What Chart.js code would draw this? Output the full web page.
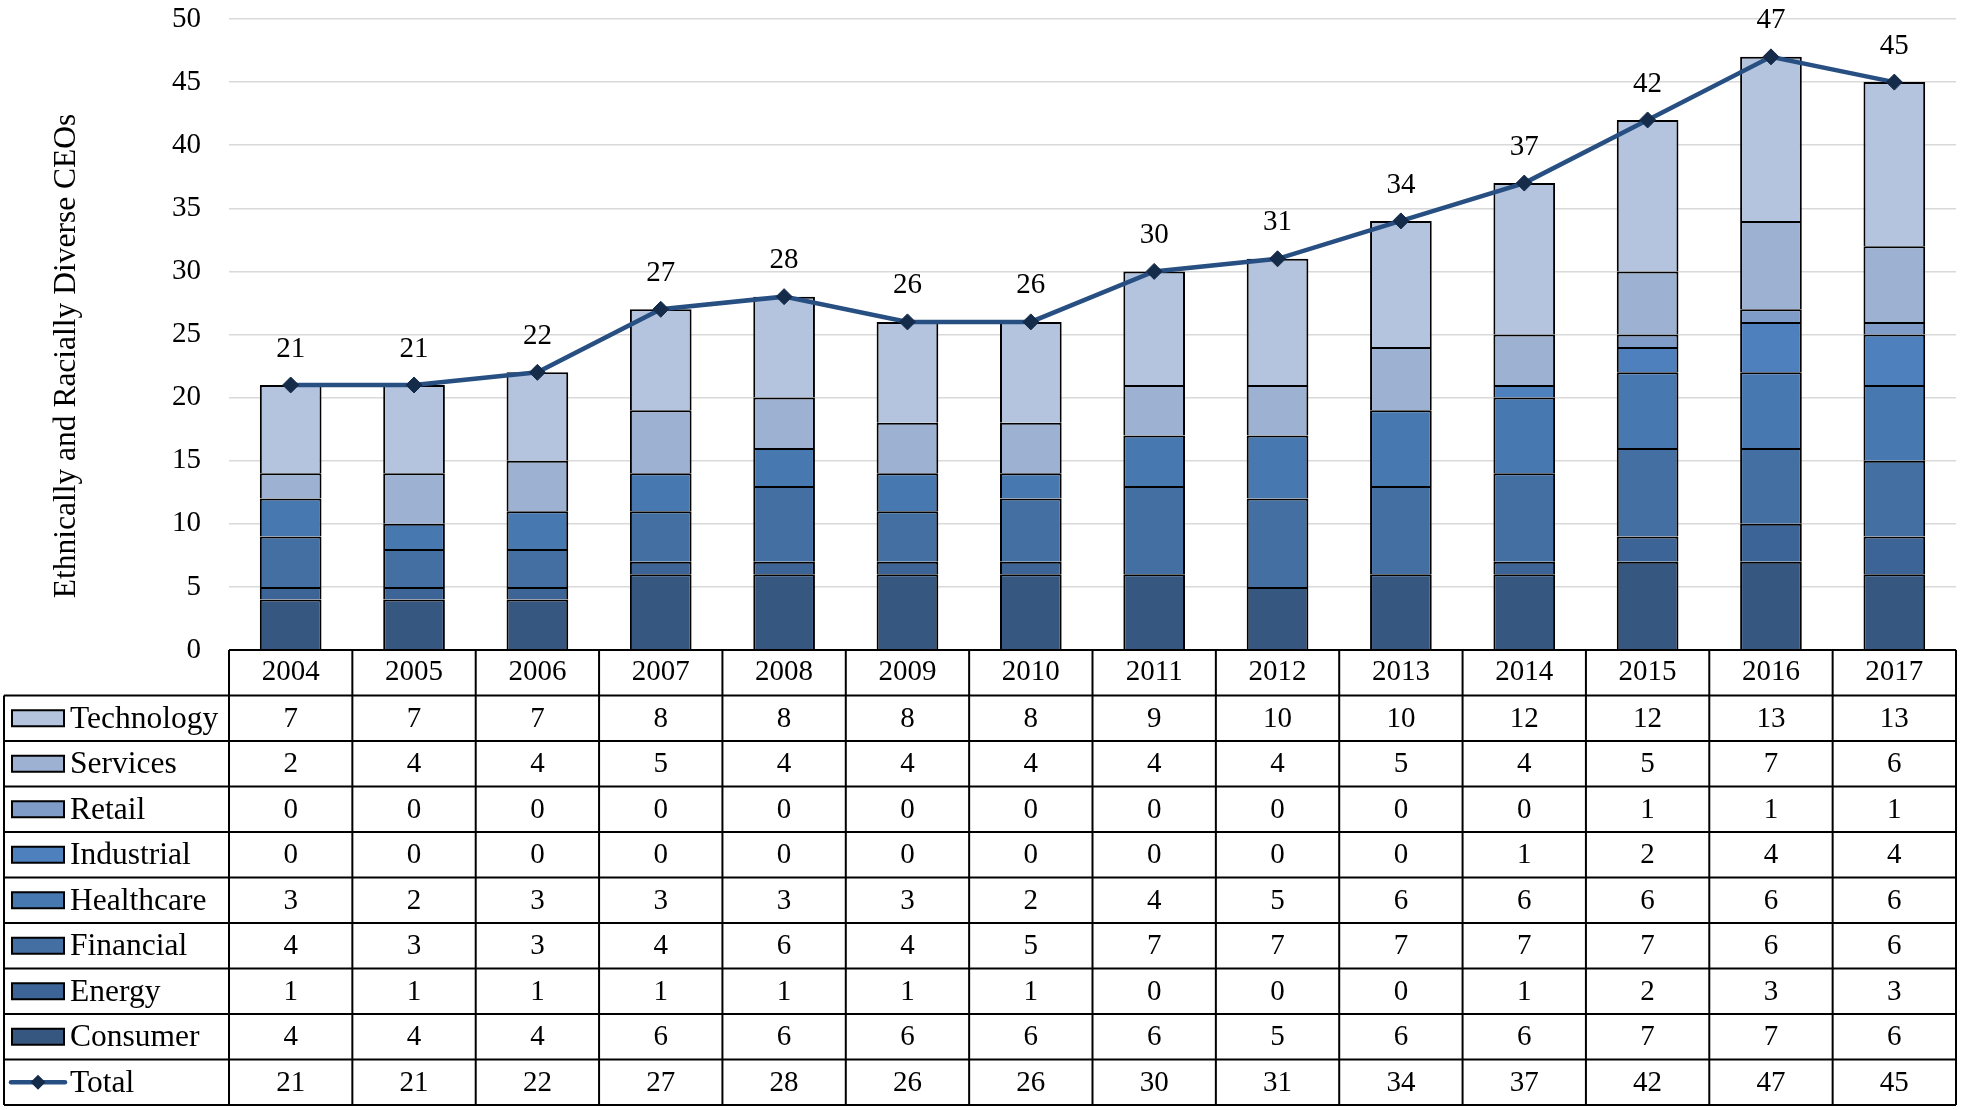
<!DOCTYPE html>
<html>
<head>
<meta charset="utf-8">
<title>Ethnically and Racially Diverse CEOs</title>
<script src="https://cdn.jsdelivr.net/npm/chart.js@4.4.1/dist/chart.umd.min.js"></script>
<style>
  html, body { margin: 0; padding: 0; background: #fff; }
  canvas { display: block; }
</style>
</head>
<body>
<canvas id="ceoChart" width="1965" height="1110"></canvas>
<script>
const years = ['2004', '2005', '2006', '2007', '2008', '2009', '2010', '2011', '2012', '2013', '2014', '2015', '2016', '2017'];

const technology = [7, 7, 7, 8, 8, 8, 8, 9, 10, 10, 12, 12, 13, 13];
const services   = [2, 4, 4, 5, 4, 4, 4, 4, 4, 5, 4, 5, 7, 6];
const retail     = [0, 0, 0, 0, 0, 0, 0, 0, 0, 0, 0, 1, 1, 1];
const industrial = [0, 0, 0, 0, 0, 0, 0, 0, 0, 0, 1, 2, 4, 4];
const healthcare = [3, 2, 3, 3, 3, 3, 2, 4, 5, 6, 6, 6, 6, 6];
const financial  = [4, 3, 3, 4, 6, 4, 5, 7, 7, 7, 7, 7, 6, 6];
const energy     = [1, 1, 1, 1, 1, 1, 1, 0, 0, 0, 1, 2, 3, 3];
const consumer   = [4, 4, 4, 6, 6, 6, 6, 6, 5, 6, 6, 7, 7, 6];
const totals     = [21, 21, 22, 27, 28, 26, 26, 30, 31, 34, 37, 42, 47, 45];

const yTicks = [0, 5, 10, 15, 20, 25, 30, 35, 40, 45, 50];
const yTitle = 'Ethnically and Racially Diverse CEOs';

const FONT = '"Liberation Serif", "Times New Roman", serif';
const LINE_COLOR = '#274F82';
const MARKER_COLOR = '#142B4A';

// stacking order, bottom to top
const sectors = [
  { label: 'Consumer',   data: consumer,   color: '#355780' },
  { label: 'Energy',     data: energy,     color: '#3D6497' },
  { label: 'Financial',  data: financial,  color: '#446FA2' },
  { label: 'Healthcare', data: healthcare, color: '#4878B0' },
  { label: 'Industrial', data: industrial, color: '#4E80BD' },
  { label: 'Retail',     data: retail,     color: '#7F9CC8' },
  { label: 'Services',   data: services,   color: '#9DB2D3' },
  { label: 'Technology', data: technology, color: '#B4C4DE' }
];

Chart.defaults.font.family = FONT;
Chart.defaults.font.size = 29;
Chart.defaults.color = '#000';

// total labels above the line markers
const totalLabels = {
  id: 'totalLabels',
  afterDatasetsDraw(chart) {
    const ctx = chart.ctx;
    const meta = chart.getDatasetMeta(sectors.length);
    ctx.save();
    ctx.font = '29px ' + FONT;
    ctx.fillStyle = '#000';
    ctx.textAlign = 'center';
    ctx.textBaseline = 'middle';
    meta.data.forEach((pt, i) => {
      ctx.fillText(String(totals[i]), pt.x, pt.y - 36);
    });
    ctx.restore();
  }
};

// y axis title, placed like the original
const axisTitle = {
  id: 'axisTitle',
  afterDraw(chart) {
    const ctx = chart.ctx;
    ctx.save();
    ctx.translate(67, 356);
    ctx.rotate(-Math.PI / 2);
    ctx.font = '31.5px ' + FONT;
    ctx.fillStyle = '#000';
    ctx.textAlign = 'center';
    ctx.textBaseline = 'middle';
    ctx.fillText(yTitle, 0, 0);
    ctx.restore();
  }
};

// data table under the plot
const dataTable = {
  id: 'dataTable',
  afterDraw(chart) {
    const ctx = chart.ctx;
    const area = chart.chartArea;
    const xs = chart.scales.x;
    const n = years.length;
    const colW = (area.right - area.left) / n;
    const rowH = 45.5;
    const top = area.bottom;
    const tableLeft = 4;
    const rows = sectors.slice().reverse();
    const nRows = rows.length + 1;
    const bottom = top + rowH * (nRows + 1);

    ctx.save();
    ctx.strokeStyle = '#000';
    ctx.lineWidth = 2;

    // horizontal lines
    ctx.beginPath();
    ctx.moveTo(area.left, top);
    ctx.lineTo(area.right, top);
    for (let r = 1; r <= nRows + 1; r++) {
      const y = top + rowH * r;
      ctx.moveTo(tableLeft, y);
      ctx.lineTo(area.right, y);
    }
    // vertical lines
    for (let c = 0; c <= n; c++) {
      const x = area.left + colW * c;
      ctx.moveTo(x, top);
      ctx.lineTo(x, bottom);
    }
    ctx.moveTo(tableLeft, top + rowH);
    ctx.lineTo(tableLeft, bottom);
    ctx.stroke();

    ctx.font = '29px ' + FONT;
    ctx.fillStyle = '#000';
    ctx.textBaseline = 'middle';

    // header
    ctx.textAlign = 'center';
    years.forEach((yr, i) => {
      ctx.fillText(yr, xs.getPixelForValue(i), top + rowH / 2);
    });

    const drawRow = (r, label, values, swatch) => {
      const cy = top + rowH * (r + 1) + rowH / 2;
      ctx.save();
      swatch(cy);
      ctx.restore();
      ctx.fillStyle = '#000';
      ctx.textAlign = 'left';
      ctx.font = '31.5px ' + FONT;
      ctx.fillText(label, 70, cy + 1);
      ctx.font = '29px ' + FONT;
      ctx.textAlign = 'center';
      values.forEach((v, i) => {
        ctx.fillText(String(v), xs.getPixelForValue(i), cy + 1);
      });
    };

    rows.forEach((s, r) => {
      drawRow(r, s.label, s.data, (cy) => {
        ctx.fillStyle = s.color;
        ctx.fillRect(12, cy - 8, 52, 16);
        ctx.strokeStyle = '#000';
        ctx.lineWidth = 2;
        ctx.strokeRect(12, cy - 8, 52, 16);
      });
    });

    drawRow(rows.length, 'Total', totals, (cy) => {
      ctx.strokeStyle = LINE_COLOR;
      ctx.lineWidth = 4.5;
      ctx.lineCap = 'round';
      ctx.beginPath();
      ctx.moveTo(11, cy);
      ctx.lineTo(65, cy);
      ctx.stroke();
      ctx.fillStyle = MARKER_COLOR;
      ctx.beginPath();
      ctx.moveTo(38, cy - 7.5);
      ctx.lineTo(45.5, cy);
      ctx.lineTo(38, cy + 7.5);
      ctx.lineTo(30.5, cy);
      ctx.closePath();
      ctx.fill();
    });

    ctx.restore();
  }
};

// zero segments are left out so they don't leave a stray border
const barSets = sectors.map(s => ({
  type: 'bar',
  label: s.label,
  data: s.data.map(v => (v === 0 ? null : v)),
  backgroundColor: s.color,
  borderColor: '#000',
  borderWidth: 2,
  borderSkipped: 'start',
  barPercentage: 0.5,
  categoryPercentage: 1,
  order: 1
}));

new Chart(document.getElementById('ceoChart'), {
  data: {
    labels: years,
    datasets: [
      ...barSets,
      {
        type: 'line',
        label: 'Total',
        data: totals,
        borderColor: LINE_COLOR,
        borderWidth: 4.5,
        pointStyle: 'rectRot',
        pointRadius: 8,
        pointBackgroundColor: MARKER_COLOR,
        pointBorderColor: MARKER_COLOR,
        pointBorderWidth: 1,
        tension: 0,
        order: 0
      }
    ]
  },
  options: {
    responsive: false,
    animation: false,
    layout: { padding: { top: 19, right: 3, bottom: 460, left: 0 } },
    scales: {
      x: {
        stacked: true,
        display: false
      },
      y: {
        stacked: true,
        min: 0,
        max: 50,
        afterBuildTicks: (axis) => { axis.ticks = yTicks.map(v => ({ value: v })); },
        afterFit: (axis) => {
          axis.width = 229;
          axis.paddingTop = 0;
          axis.paddingBottom = 0;
        },
        border: { display: false },
        grid: { color: '#D9D9D9', lineWidth: 1.5, drawTicks: false },
        ticks: { padding: 28, color: '#000', font: { size: 29 } }
      }
    },
    plugins: {
      legend: { display: false },
      tooltip: { enabled: false }
    }
  },
  plugins: [totalLabels, axisTitle, dataTable]
});
</script>
</body>
</html>
